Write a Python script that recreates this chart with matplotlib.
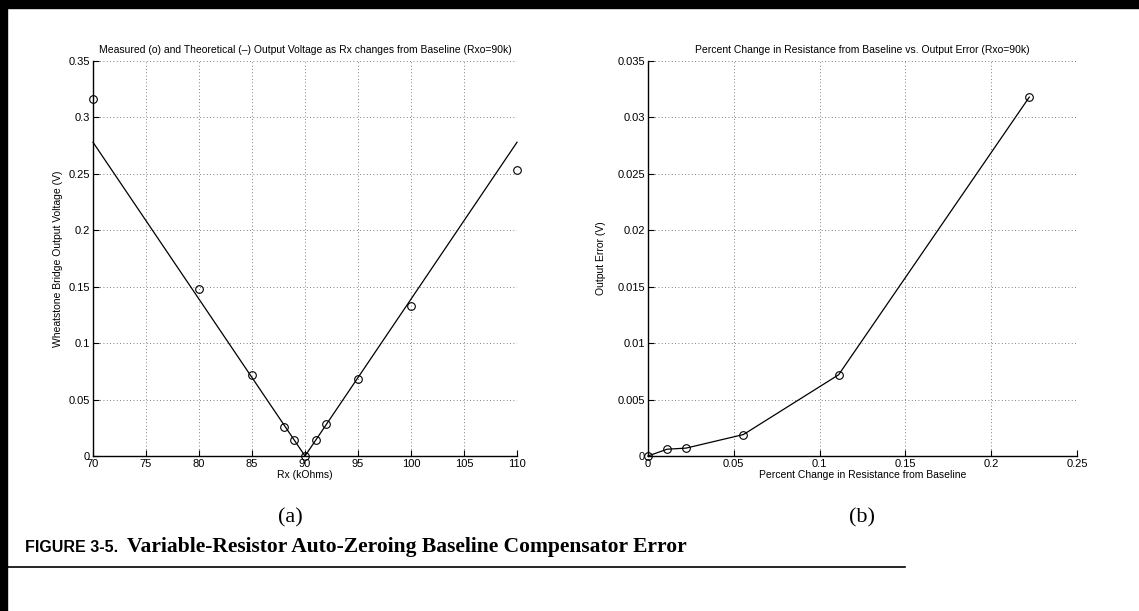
import matplotlib.pyplot as plt
from matplotlib.patches import Rectangle
from matplotlib.lines import Line2D

# panel (a): bridge output vs Rx
rx_meas = [70, 80, 85, 88, 89, 90, 91, 92, 95, 100, 110]
v_meas = [0.316, 0.148, 0.072, 0.026, 0.014, 0.0, 0.014, 0.028, 0.068, 0.133, 0.253]
rx_theory = [70, 80, 85, 88, 89, 90, 91, 92, 95, 100, 110]
v_theory = [0.278, 0.139, 0.0695, 0.0278, 0.0139, 0.0, 0.0139, 0.0278, 0.0695, 0.139, 0.278]

# panel (b): percent change vs output error
pct_change = [0.0, 0.0111, 0.0222, 0.0556, 0.1111, 0.2222]
out_error = [0.0, 0.0006, 0.0007, 0.0019, 0.0072, 0.0318]

plt.rcParams['font.family'] = ['Liberation Sans', 'DejaVu Sans']

W, H = 1139, 611
fig = plt.figure(figsize=(W / 100, H / 100), dpi=100)


def px_axes(x0, y0, x1, y1):
    return fig.add_axes([x0 / W, 1 - y1 / H, (x1 - x0) / W, (y1 - y0) / H])


def matlab_style(ax):
    for side in ('top', 'right'):
        ax.spines[side].set_visible(False)
    for side in ('left', 'bottom'):
        ax.spines[side].set_linewidth(1.0)
    ax.tick_params(direction='in', length=4, width=0.8, labelsize=8, pad=2)
    ax.grid(True, color='#555555', linestyle=(0, (1, 3)), linewidth=0.6)
    ax.set_axisbelow(True)


# (a)
ax1 = px_axes(93, 61, 517, 456)
ax1.plot(rx_theory, v_theory, color='black', linewidth=0.9, clip_on=False)
ax1.plot(rx_meas, v_meas, 'o', mfc='none', mec='black', ms=5.5, mew=0.8, clip_on=False)
ax1.set_xlim(70, 110)
ax1.set_ylim(0, 0.35)
ax1.set_xticks(range(70, 111, 5))
ax1.set_yticks([0, 0.05, 0.1, 0.15, 0.2, 0.25, 0.3, 0.35])
ax1.set_yticklabels(['0', '0.05', '0.1', '0.15', '0.2', '0.25', '0.3', '0.35'])
matlab_style(ax1)
ax1.set_title('Measured (o) and Theoretical (\u2013) Output Voltage as Rx changes from Baseline (Rxo=90k)',
              fontsize=7.5, pad=6)
ax1.set_xlabel('Rx (kOhms)', fontsize=7.5, labelpad=1)
ax1.set_ylabel('Wheatstone Bridge Output Voltage (V)', fontsize=7.5, labelpad=4)

# (b)
ax2 = px_axes(648, 61, 1077, 456)
ax2.plot(pct_change, out_error, '-o', color='black', linewidth=0.9,
         mfc='none', mec='black', ms=5.5, mew=0.8, clip_on=False)
ax2.set_xlim(0, 0.25)
ax2.set_ylim(0, 0.035)
ax2.set_xticks([0, 0.05, 0.1, 0.15, 0.2, 0.25])
ax2.set_xticklabels(['0', '0.05', '0.1', '0.15', '0.2', '0.25'])
ax2.set_yticks([0, 0.005, 0.01, 0.015, 0.02, 0.025, 0.03, 0.035])
ax2.set_yticklabels(['0', '0.005', '0.01', '0.015', '0.02', '0.025', '0.03', '0.035'])
matlab_style(ax2)
ax2.set_title('Percent Change in Resistance from Baseline vs. Output Error (Rxo=90k)',
              fontsize=7.5, pad=6)
ax2.set_xlabel('Percent Change in Resistance from Baseline', fontsize=7.5, labelpad=1)
ax2.set_ylabel('Output Error (V)', fontsize=7.5, labelpad=8)

# subfigure labels
fig.text(290 / W, 1 - 518 / H, '(a)', fontsize=16, family='Liberation Serif',
         ha='center', va='center')
fig.text(862 / W, 1 - 518 / H, '(b)', fontsize=16, family='Liberation Serif',
         ha='center', va='center')

# caption
fig.text(25 / W, 1 - 547 / H, 'FIGURE 3-5.', fontsize=11.5, fontweight='bold',
         family='Liberation Sans', ha='left', va='center')
fig.text(127 / W, 1 - 547 / H, 'Variable-Resistor Auto-Zeroing Baseline Compensator Error',
         fontsize=15.5, fontweight='bold', family='Liberation Serif', ha='left', va='center')
fig.add_artist(Line2D([8 / W, 905 / W], [1 - 567 / H, 1 - 567 / H], color='black', linewidth=1.2))

# page border bars
fig.add_artist(Rectangle((0, 1 - 8 / H), 1, 8 / H, transform=fig.transFigure,
                         color='black', zorder=10))
fig.add_artist(Rectangle((0, 0), 7 / W, 1, transform=fig.transFigure,
                         color='black', zorder=10))

fig.savefig('out.png', dpi=100)
